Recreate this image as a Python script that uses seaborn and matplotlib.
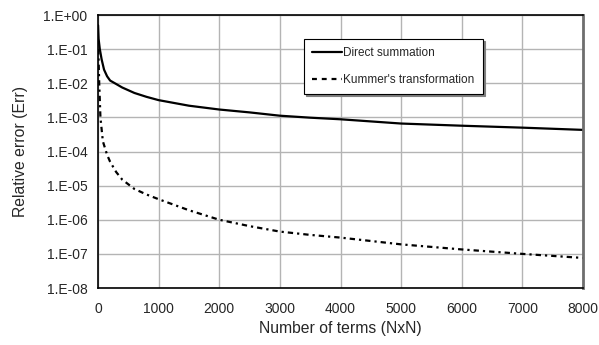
import numpy as np
import pandas as pd
import matplotlib
matplotlib.use('Agg')
import matplotlib.pyplot as plt
import matplotlib.ticker as mticker
from matplotlib.lines import Line2D
import seaborn as sns

# valores
terms_direct = [1, 10, 30, 60, 100, 150, 200, 300, 400, 600, 800, 1000, 1500,
                2000, 2500, 3000, 3500, 4000, 5000, 6000, 7000, 8000]
err_direct = [0.5, 0.2, 0.1, 0.05, 0.025, 0.016, 0.012, 0.0095, 0.0075, 0.0052,
              0.004, 0.0032, 0.0022, 0.0017, 0.0014, 0.00112, 0.00098, 0.00088,
              0.00066, 0.00057, 0.0005, 0.00043]

terms_kummer = [5, 20, 40, 80, 150, 200, 300, 400, 600, 800, 1000, 1500, 2000,
                2500, 3000, 3500, 4000, 5000, 6000, 7000, 8000]
err_kummer = [0.1, 0.01, 0.001, 0.0002, 8e-05, 5e-05, 2.5e-05, 1.5e-05, 8e-06,
              5.5e-06, 4e-06, 1.9e-06, 1.0e-06, 6.5e-07, 4.5e-07, 3.6e-07, 3e-07,
              1.9e-07, 1.35e-07, 1.0e-07, 7.6e-08]

series_names = ['Direct summation', "Kummer's transformation"]


def main():
    sns.set_style('white')
    plt.rcParams['font.family'] = ['Liberation Sans', 'DejaVu Sans']

    df = pd.concat([
        pd.DataFrame({'terms': terms_direct, 'err': err_direct, 'serie': series_names[0]}),
        pd.DataFrame({'terms': terms_kummer, 'err': err_kummer, 'serie': series_names[1]}),
    ])

    fig = plt.figure(figsize=(5.99, 3.45), dpi=100)
    ax = fig.add_axes([0.1636, 0.1652, 0.8097, 0.7913])

    sns.lineplot(data=df, x='terms', y='err', style='serie', ax=ax,
                 color='black', linewidth=1.6, legend=False,
                 dashes={series_names[0]: '', series_names[1]: (2.4, 1.8, 1.0, 1.8)})

    ax.set_yscale('log')
    ax.set_xlim(0, 8000)
    ax.set_ylim(1e-8, 1)
    ax.xaxis.set_major_locator(mticker.MultipleLocator(1000))
    ax.xaxis.set_minor_locator(mticker.MultipleLocator(500))
    ax.yaxis.set_major_locator(mticker.LogLocator(base=10, numticks=20))
    ax.yaxis.set_minor_locator(mticker.LogLocator(base=10, subs=np.arange(2, 10), numticks=20))
    ax.yaxis.set_minor_formatter(mticker.NullFormatter())
    ax.yaxis.set_major_formatter(mticker.FuncFormatter(
        lambda v, p: '1.E%+03d' % int(round(np.log10(v)))))

    ax.grid(True, which='major', color='#b4b4b4', linewidth=1.0)
    ax.tick_params(axis='both', which='major', labelsize=10, length=4, width=1,
                   color='black', direction='inout')
    ax.tick_params(axis='y', which='major', direction='out', length=4)
    ax.tick_params(axis='both', which='minor', length=2.5, width=0.8,
                   color='black', direction='inout')
    ax.tick_params(axis='x', which='major', pad=8)

    for side in ['left', 'bottom', 'top']:
        ax.spines[side].set_color('black')
        ax.spines[side].set_linewidth(1.2)
    ax.spines['right'].set_color('#6e6e6e')
    ax.spines['right'].set_linewidth(2)

    ax.set_xlabel('Number of terms (NxN)', fontsize=11.3, labelpad=4)
    ax.set_ylabel('Relative error (Err)', fontsize=11.3, labelpad=11)

    handles = [Line2D([], [], color='black', linewidth=1.6),
               Line2D([], [], color='black', linewidth=1.6, dashes=(2.2, 2.2))]
    leg = ax.legend(handles, series_names, loc='upper left',
                    bbox_to_anchor=(0.425, 0.912), fontsize=8.5, frameon=True,
                    fancybox=False, edgecolor='black', framealpha=1,
                    handlelength=2.5, handletextpad=0.1, labelspacing=1.25,
                    borderpad=0.7, borderaxespad=0,
                    shadow={'color': '#808080', 'alpha': 1, 'ox': 1.5, 'oy': -1.5})
    leg.get_frame().set_linewidth(0.8)

    fig.savefig('out.png', dpi=100)


if __name__ == '__main__':
    main()
